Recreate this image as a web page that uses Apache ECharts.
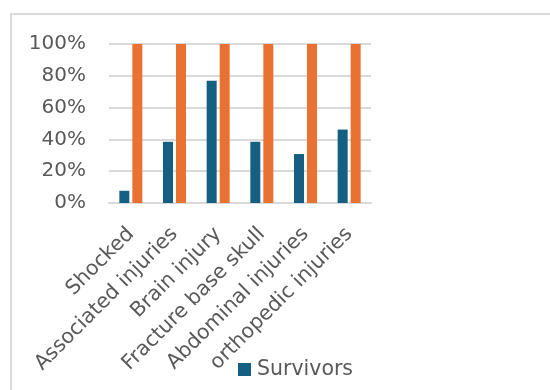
<!DOCTYPE html>
<html>
<head>
<meta charset="utf-8">
<script src="https://cdn.jsdelivr.net/npm/echarts@6/dist/echarts.min.js"></script>
<style>
  html, body { margin: 0; padding: 0; background: #ffffff; }
  #chart { width: 550px; height: 390px; }
</style>
</head>
<body>
<div id="chart"></div>
<script>
// datos
const categories = ['Shocked', 'Associated injuries', 'Brain injury', 'Fracture base skull', 'Abdominal injuries', 'orthopedic injuries'];
const survivors = [7.7, 38.5, 76.9, 38.5, 30.8, 46.2];
const totals = [100, 100, 100, 100, 100, 100];
const yTicks = [0, 20, 40, 60, 80, 100];

const chart = echarts.init(document.getElementById('chart'));

const option = {
    backgroundColor: '#ffffff',
    animation: false,
    textStyle: { fontFamily: 'DejaVu Sans' },
    graphic: [
        // marco del gráfico (borde gris arriba e izquierda)
        { type: 'line', shape: { x1: 10, y1: 14, x2: 550, y2: 14 }, style: { stroke: '#d9d9d9', lineWidth: 2 } },
        { type: 'line', shape: { x1: 11, y1: 14, x2: 11, y2: 390 }, style: { stroke: '#d9d9d9', lineWidth: 2 } }
    ],
    grid: { left: 109, right: 179, top: 44, bottom: 187, containLabel: false },
    legend: {
        data: ['Survivors'],
        left: 233,
        top: 354,
        itemWidth: 13,
        itemHeight: 13,
        icon: 'rect',
        itemGap: 10,
        textStyle: { color: '#595959', fontSize: 20.5, fontFamily: 'DejaVu Sans', padding: [0, 0, 0, 1] }
    },
    xAxis: {
        type: 'category',
        data: categories,
        axisLine: { lineStyle: { color: '#d9d9d9', width: 2 } },
        axisTick: { show: false },
        axisLabel: {
            rotate: 45,
            interval: 0,
            margin: 28,
            color: '#595959',
            fontSize: 20.5
        }
    },
    yAxis: {
        type: 'value',
        min: yTicks[0],
        max: yTicks[yTicks.length - 1],
        interval: 20,
        axisLine: { show: false },
        axisTick: { show: false },
        splitLine: { lineStyle: { color: '#d9d9d9', width: 2 } },
        axisLabel: {
            margin: 23,
            color: '#595959',
            fontSize: 20,
            formatter: '{value}%'
        }
    },
    series: [
        {
            name: 'Survivors',
            type: 'bar',
            data: survivors,
            barWidth: 10,
            barGap: '30%',
            itemStyle: { color: '#156082' }
        },
        {
            name: 'Total',
            type: 'bar',
            data: totals,
            barWidth: 10,
            itemStyle: { color: '#e97132' }
        }
    ]
};

chart.setOption(option);
</script>
</body>
</html>
